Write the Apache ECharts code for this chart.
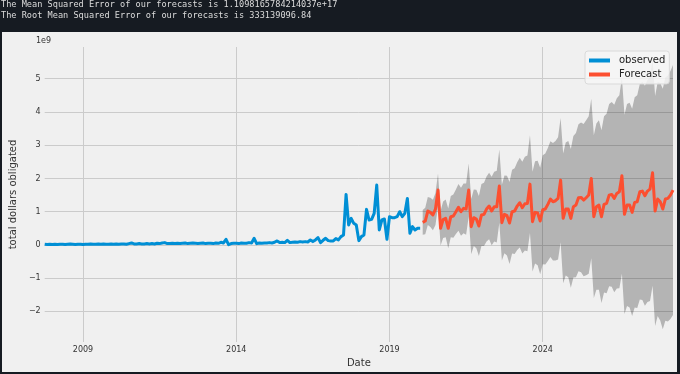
<!DOCTYPE html>
<html><head><meta charset="utf-8">
<script src="https://cdn.jsdelivr.net/npm/echarts@6/dist/echarts.min.js"></script>
<style>html,body{margin:0;padding:0;background:#161b22;}#c{width:680px;height:374px;}</style>
</head><body><div id="c"></div><script>
const headerLines = [
  'The Mean Squared Error of our forecasts is 1.1098165784214037e+17',
  'The Root Mean Squared Error of our forecasts is 333139096.84'
];
// values in units of 1e9 dollars, monthly
const observedStart = [2007, 10];
const observed = [
  0.02,0.01,0.02,
  0.01,0.02,0.01,0.02,0.02,0.01,0.02,0.03,0.02,0.01,0.02,0.02,
  0.01,0.02,0.02,0.03,0.02,0.02,0.03,0.02,0.03,0.02,0.02,0.03,
  0.02,0.03,0.02,0.03,0.03,0.02,0.04,0.06,0.03,0.03,0.04,0.03,
  0.03,0.04,0.03,0.04,0.03,0.05,0.04,0.06,0.07,0.04,0.04,0.05,
  0.04,0.05,0.04,0.05,0.06,0.04,0.05,0.06,0.05,0.04,0.05,0.06,
  0.04,0.05,0.05,0.04,0.06,0.05,0.08,0.06,0.17,0.01,0.04,0.05,
  0.05,0.04,0.06,0.05,0.05,0.07,0.06,0.20,0.04,0.06,0.05,0.06,
  0.06,0.07,0.06,0.08,0.12,0.07,0.08,0.07,0.14,0.07,0.08,0.09,
  0.08,0.10,0.09,0.10,0.09,0.15,0.10,0.15,0.22,0.07,0.14,0.20,
  0.13,0.12,0.12,0.19,0.15,0.25,0.30,1.52,0.60,0.80,0.65,0.60,
  0.13,0.25,0.30,1.07,0.75,0.77,0.95,1.80,0.45,0.75,0.78,0.17,
  0.85,0.82,0.82,0.85,1.00,0.85,0.95,1.40,0.35,0.55,0.45,0.50,
  0.50
];
const forecastStart = [2020, 2];
const forecast = [
  0.68,0.72,1.02,0.98,0.90,1.08,1.65,
  0.50,0.76,0.80,0.50,0.85,0.87,1.00,1.13,1.00,1.10,1.08,1.65,
  0.55,0.82,0.78,0.57,0.90,0.92,1.08,1.17,1.02,1.15,1.15,1.77,
  0.67,0.92,0.88,0.66,1.00,1.02,1.17,1.27,1.12,1.24,1.25,1.83,
  0.70,0.98,0.96,0.72,1.06,1.08,1.22,1.38,1.30,1.33,1.40,1.95,
  0.80,1.08,1.08,0.80,1.15,1.20,1.42,1.43,1.35,1.42,1.50,2.00,
  0.85,1.15,1.20,0.85,1.22,1.25,1.50,1.52,1.40,1.55,1.60,2.08,
  0.92,1.20,1.20,0.98,1.28,1.30,1.60,1.62,1.48,1.62,1.68,2.17,
  1.02,1.38,1.30,1.08,1.38,1.40,1.50,1.65
];
const ciLower = [
  0.31,0.32,0.60,0.54,0.44,0.60,1.15,
  -0.02,0.21,0.23,-0.10,0.23,0.22,0.33,0.43,0.28,0.35,0.31,0.85,
  -0.28,-0.03,-0.10,-0.33,-0.03,-0.03,0.10,0.17,-0.01,0.10,0.07,0.67,
  -0.47,-0.25,-0.32,-0.57,-0.26,-0.27,-0.15,-0.08,-0.26,-0.17,-0.19,0.36,
  -0.80,-0.56,-0.61,-0.88,-0.58,-0.59,-0.48,-0.36,-0.47,-0.47,-0.44,0.08,
  -1.15,-0.92,-0.97,-1.29,-0.98,-0.97,-0.79,-0.82,-0.94,-0.91,-0.87,-0.40,
  -1.60,-1.35,-1.35,-1.75,-1.43,-1.45,-1.24,-1.26,-1.42,-1.31,-1.30,-0.87,
  -2.08,-1.84,-1.88,-2.14,-1.88,-1.90,-1.64,-1.66,-1.83,-1.72,-1.69,-1.23,
  -2.44,-2.14,-2.27,-2.54,-2.28,-2.30,-2.23,-2.11
];
const ciUpper = [
  1.05,1.12,1.44,1.42,1.36,1.56,2.15,
  1.02,1.31,1.37,1.10,1.47,1.52,1.67,1.83,1.72,1.85,1.85,2.45,
  1.38,1.67,1.66,1.47,1.83,1.87,2.06,2.17,2.05,2.20,2.23,2.87,
  1.81,2.09,2.08,1.89,2.26,2.31,2.49,2.62,2.50,2.65,2.69,3.30,
  2.20,2.52,2.53,2.32,2.70,2.75,2.92,3.12,3.07,3.13,3.24,3.82,
  2.75,3.08,3.13,2.89,3.28,3.37,3.63,3.68,3.64,3.75,3.87,4.40,
  3.30,3.65,3.75,3.45,3.87,3.95,4.24,4.30,4.22,4.41,4.50,5.03,
  3.92,4.24,4.28,4.10,4.44,4.50,4.84,4.90,4.79,4.96,5.05,5.57,
  4.48,4.90,4.87,4.70,5.04,5.10,5.23,5.41
];
const xTickYears = [2009, 2014, 2019, 2024];
const yTicks = [-2, -1, 0, 1, 2, 3, 4, 5];
const xRange = [[2007, 10], [2028, 4]];
const yRange = [-2.92, 5.955];

// position of a month on a decimal-year axis
function monthPos(start, i) { return start[0] + (start[1] - 1 + i) / 12; }
const obsData = observed.map((v, i) => [monthPos(observedStart, i), v]);
const fcData = forecast.map((v, i) => [monthPos(forecastStart, i), v]);
const bandData = ciLower.map((v, i) => [monthPos(forecastStart, i), v, ciUpper[i]]);

const FONT = 'DejaVu Sans';
const labelColor = '#333333';
const chart = echarts.init(document.getElementById('c'), null, { renderer: 'canvas' });
chart.setOption({
  animation: false,
  backgroundColor: '#161b22',
  textStyle: { fontFamily: FONT },
  graphic: { elements: [
    { type: 'rect', z: -10, shape: { x: 2, y: 32, width: 675, height: 340 }, style: { fill: '#f0f0f0' } },
    { type: 'text', z: 10, x: 1, y: 5, style: { text: headerLines[0], fill: '#dcdcdc', font: '8.6px "DejaVu Sans Mono"', verticalAlign: 'middle' } },
    { type: 'text', z: 10, x: 1, y: 16, style: { text: headerLines[1], fill: '#dcdcdc', font: '8.6px "DejaVu Sans Mono"', verticalAlign: 'middle' } },
    { type: 'text', z: 10, x: 36, y: 41, style: { text: '1e9', fill: labelColor, font: '8px "DejaVu Sans"', verticalAlign: 'middle' } }
  ] },
  grid: { left: 36, right: 7, top: 47, bottom: 32, containLabel: false },
  legend: {
    data: ['observed', 'Forecast'], orient: 'vertical', left: 585, top: 51,
    icon: 'rect', itemWidth: 21, itemHeight: 4, itemGap: 1,
    padding: [3, 4, 3, 4],
    backgroundColor: 'rgba(246,246,246,0.85)', borderColor: 'rgba(215,215,215,0.9)', borderWidth: 1, borderRadius: 3,
    textStyle: { fontFamily: FONT, fontSize: 10, color: '#222', padding: [0, 0, 0, 4], lineHeight: 13 }
  },
  xAxis: {
    type: 'value',
    min: monthPos(xRange[0], 0), max: monthPos(xRange[1], 0),
    name: 'Date', nameLocation: 'middle', nameGap: 15,
    nameTextStyle: { fontFamily: FONT, fontSize: 10, color: labelColor },
    axisLine: { show: false }, axisTick: { show: false, customValues: xTickYears },
    axisLabel: { customValues: xTickYears, formatter: v => String(Math.round(v)),
      fontFamily: FONT, fontSize: 8, color: labelColor, margin: 4 },
    splitLine: { show: true, lineStyle: { color: '#cbcbcb', width: 1 } }
  },
  yAxis: {
    type: 'value', min: yRange[0], max: yRange[1],
    name: 'total dollars obligated', nameLocation: 'middle', nameGap: 26,
    nameTextStyle: { fontFamily: FONT, fontSize: 10, color: labelColor },
    axisLine: { show: false }, axisTick: { show: false, customValues: yTicks },
    axisLabel: { customValues: yTicks, formatter: v => v < 0 ? '\u2212' + Math.abs(v) : String(v),
      fontFamily: FONT, fontSize: 8, color: labelColor, margin: 4 },
    splitLine: { show: true, lineStyle: { color: '#cbcbcb', width: 1 } }
  },
  series: [
    { name: 'ci', type: 'custom', data: bandData, silent: true, z: 1,
      encode: { x: 0, y: [1, 2] },
      renderItem: function (params, api) {
        if (params.dataIndex !== 0) return null;
        const up = bandData.map(d => api.coord([d[0], d[2]]));
        const lo = bandData.map(d => api.coord([d[0], d[1]])).reverse();
        return { type: 'polygon', shape: { points: up.concat(lo) },
          style: { fill: 'rgba(0,0,0,0.25)', stroke: null } };
      } },
    { name: 'observed', type: 'line', data: obsData, symbol: 'none', color: '#008fd5',
      lineStyle: { width: 3, color: '#008fd5', join: 'round' }, z: 3 },
    { name: 'Forecast', type: 'line', data: fcData, symbol: 'none', color: '#fc4f30',
      lineStyle: { width: 3, color: '#fc4f30', join: 'round' }, z: 3 }
  ]
});
</script></body></html>
